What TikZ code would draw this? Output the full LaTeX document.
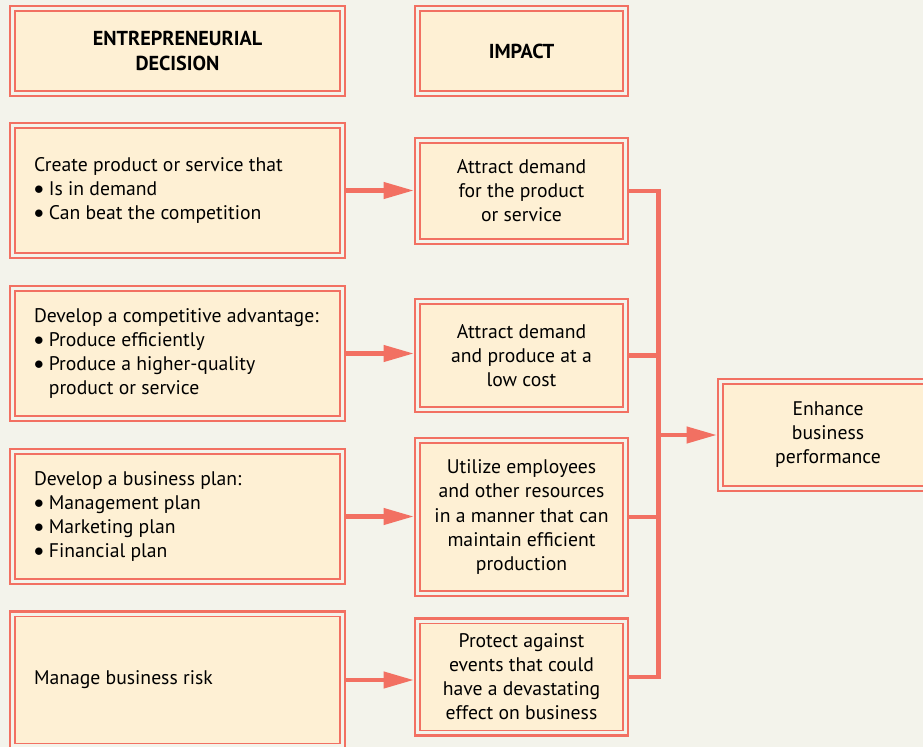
\documentclass[tikz,border=0pt]{standalone}
\usepackage{fontspec}
\setmainfont{PT Sans}
\usepackage{xcolor}
\usepackage{tikz}
\usetikzlibrary{arrows.meta,calc,positioning}
\definecolor{coral}{RGB}{242,112,98}
\definecolor{cream}{RGB}{254,240,212}
\definecolor{paper}{RGB}{243,243,235}
\newcommand{\bul}{\raisebox{0.1ex}{$\bullet$}\ }

\begin{document}
\begin{tikzpicture}[x=0.02cm, y=-0.02cm, line join=miter,
    framebox/.style={draw=coral, line width=1.5pt, fill=paper,
      font=\fontsize{11.2}{13.7}\selectfont, inner xsep=0.48cm, inner ysep=0pt,
      path picture={\draw[coral, line width=0.7pt, fill=cream]
        ([xshift=0.1cm,yshift=0.1cm]path picture bounding box.south west) rectangle
        ([xshift=-0.1cm,yshift=-0.1cm]path picture bounding box.north east);}},
    headbox/.style={framebox, minimum height=1.8cm, align=center, font=\fontsize{11.5}{13.9}\selectfont\bfseries},
    decbox/.style={framebox, minimum height=2.7cm, text width=5.74cm, align=flush left},
    impbox/.style={framebox, minimum width=4.26cm, inner xsep=0.1cm, align=center},
    flow/.style={coral, line width=2.3pt, -{Triangle[length=0.6cm, width=0.32cm]}},
    link/.style={coral, line width=2.6pt}]
    % canvas
    \fill[paper] (0,0) rectangle (923,747);
    \useasboundingbox (0,0) rectangle (923,747);

    % column heads
    \node[headbox, minimum width=6.7cm] (headdec) at (177.5,51) {ENTREPRENEURIAL\\DECISION};
    \node[headbox, minimum width=4.26cm] (headimp) at (521.5,51) {IMPACT};

    % decisions
    \node[decbox] (dec1) at (177.5,190.5) {Create product or service that\\
      \bul Is in demand\\ \bul Can beat the competition};
    \node[decbox] (dec2) at (177.5,353.5) {Develop a competitive advantage:\\
      \bul Produce efficiently\\ \bul Produce a higher-quality\\
      \hphantom{\bul}product or service};
    \node[decbox] (dec3) at (177.5,516.5) {Develop a business plan:\\
      \bul Management plan\\ \bul Marketing plan\\ \bul Financial plan};
    \node[decbox, minimum height=2.74cm] (dec4) at (177.5,680) {Manage business risk};

    % impacts
    \node[impbox, minimum height=2.12cm] (imp1) at (521.5,191) {Attract demand\\for the product\\or service};
    \node[impbox, minimum height=2.26cm] (imp2) at (521.5,355.5) {Attract demand\\and produce at a\\low cost};
    \node[impbox, minimum height=3.16cm] (imp3) at (521.5,517) {Utilize employees\\and other resources\\in a manner that can\\maintain efficient\\production};
    \node[impbox, minimum height=2.34cm] (imp4) at (521.5,677) {Protect against\\events that could\\have a devastating\\effect on business};

    % outcome
    \node[impbox, minimum width=4.4cm, minimum height=2.24cm] (perf) at (828,435) {Enhance\\business\\performance};

    % arrows decision -> impact
    \foreach \i in {1,...,4}
      \draw[flow] (dec\i.east) -- (dec\i.east -| imp\i.west);

    % collecting bar
    \coordinate (bus) at (658.5,0);
    \draw[link] (imp1.east) -| (imp4.east -| bus) -- (imp4.east);
    \draw[link] (imp2.east) -- (imp2.east -| bus);
    \draw[link] (imp3.east) -- (imp3.east -| bus);
    \draw[flow] (perf.west -| bus) -- (perf.west);
\end{tikzpicture}
\end{document}
